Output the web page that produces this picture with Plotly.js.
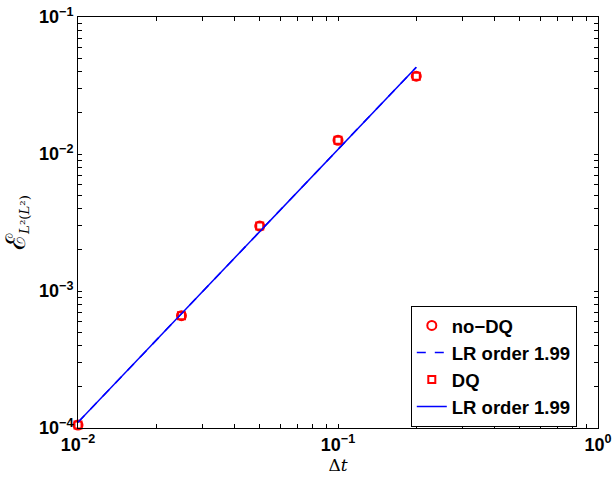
<!DOCTYPE html>
<html>
<head>
<meta charset="utf-8">
<script src="https://cdn.plot.ly/plotly-3.0.1.min.js"></script>
<style>html,body{margin:0;padding:0;background:#fff;}#chart{width:613px;height:477px;}</style>
</head>
<body>
<div id="chart"></div>
<script>
const dt = [0.01, 0.025, 0.05, 0.1, 0.2];
const errNoDQ = [1.05e-4, 6.6e-4, 2.98e-3, 1.26e-2, 3.7e-2];
const errDQ = [1.05e-4, 6.6e-4, 2.98e-3, 1.26e-2, 3.7e-2];
const lrX = [0.01, 0.2];
const lrNoDQ = [1.1e-4, 4.3e-2];
const lrDQ = [1.1e-4, 4.3e-2];
const legendNames = ['no\u2212DQ', 'LR order 1.99', 'DQ', 'LR order 1.99'];
const xDecades = [0.01, 0.1, 1];
const xDecadeText = ['10<sup>\u22122</sup>', '10<sup>\u22121</sup>', '10<sup>0</sup>'];
const yDecades = [1e-4, 1e-3, 1e-2, 1e-1];
const yDecadeText = ['10<sup>\u22124</sup>', '10<sup>\u22123</sup>', '10<sup>\u22122</sup>', '10<sup>\u22121</sup>'];
const mult = [2, 3, 4, 5, 6, 7, 8, 9];

function buildTicks(decades, labels) {
  const vals = [], text = [];
  decades.forEach((d, i) => {
    vals.push(d); text.push(labels[i]);
    if (i < decades.length - 1) mult.forEach(m => { vals.push(d * m); text.push(''); });
  });
  return {vals, text};
}
const xt = buildTicks(xDecades, xDecadeText);
const yt = buildTicks(yDecades, yDecadeText);

const traces = [
  {x: dt, y: errNoDQ, name: legendNames[0], mode: 'markers', type: 'scatter', cliponaxis: false,
   marker: {symbol: 'circle-open', size: 9, color: '#ff0000', line: {width: 2, color: '#ff0000'}}},
  {x: lrX, y: lrNoDQ, name: legendNames[1], mode: 'lines', type: 'scatter',
   line: {color: '#0000ff', width: 1.5, dash: 'dash'}},
  {x: dt, y: errDQ, name: legendNames[2], mode: 'markers', type: 'scatter', cliponaxis: false,
   marker: {symbol: 'square-open', size: 7, color: '#ff0000', line: {width: 2, color: '#ff0000'}}},
  {x: lrX, y: lrDQ, name: legendNames[3], mode: 'lines', type: 'scatter',
   line: {color: '#0000ff', width: 1.5}}
];

const tickFont = {family: 'Liberation Sans, Arial, sans-serif', size: 18, color: '#000', weight: 'bold'};

const layout = {
  width: 613, height: 477,
  margin: {l: 78, r: 15, t: 17, b: 49},
  paper_bgcolor: '#fff', plot_bgcolor: '#fff',
  showlegend: true,
  legend: {x: 0.64, y: 0.297, xanchor: 'left', yanchor: 'top',
    bordercolor: '#000', borderwidth: 1, bgcolor: '#fff',
    font: {family: 'Liberation Sans, Arial, sans-serif', size: 18.5, color: '#000', weight: 'bold'},
    tracegroupgap: 0, itemwidth: 30},
  xaxis: {type: 'log', range: [-2, 0], tickmode: 'array', tickvals: xt.vals, ticktext: xt.text,
    showline: true, linecolor: '#000', linewidth: 1, mirror: 'ticks',
    ticks: 'inside', ticklen: 4, tickwidth: 1, tickcolor: '#000', showgrid: false, zeroline: false,
    tickfont: tickFont,
    title: {text: '\u0394<i>t</i>', font: {family: 'DejaVu Serif, serif', size: 17, color: '#000'}, standoff: 4}},
  yaxis: {type: 'log', range: [-4, -1], tickmode: 'array', tickvals: yt.vals, ticktext: yt.text,
    showline: true, linecolor: '#000', linewidth: 1, mirror: 'ticks',
    ticks: 'inside', ticklen: 4, tickwidth: 1, tickcolor: '#000', showgrid: false, zeroline: false,
    tickfont: tickFont,
    title: {text: '<span style="font-size:27px">\u2130</span><sub><i>L</i>\u00b2(<i>L</i>\u00b2)</sub>', font: {family: 'DejaVu Serif, serif', size: 19, color: '#000'}, standoff: 12}}
};

Plotly.newPlot('chart', traces, layout, {displayModeBar: false, staticPlot: true});
</script>
</body>
</html>
